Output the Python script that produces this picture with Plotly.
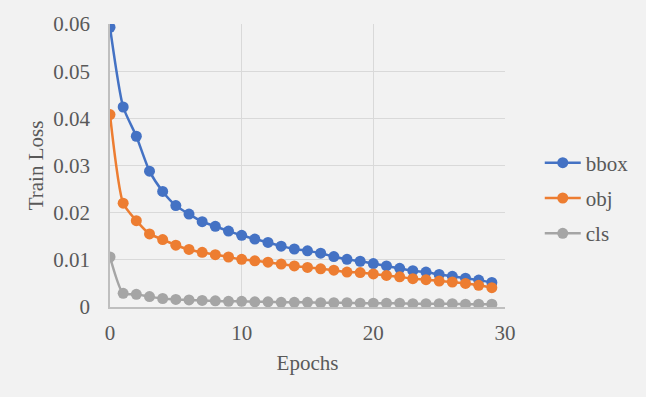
import plotly.graph_objects as go

epochs = list(range(30))
bbox = [0.0593, 0.0424, 0.0362, 0.0288, 0.0245, 0.0215, 0.0197, 0.0181, 0.0171, 0.0161,
        0.0152, 0.0144, 0.0137, 0.0129, 0.0123, 0.0119, 0.0114, 0.0107, 0.0101, 0.0097,
        0.0092, 0.0087, 0.0082, 0.0077, 0.0074, 0.0069, 0.0065, 0.0061, 0.0057, 0.0052]
obj = [0.0408, 0.0220, 0.0183, 0.0155, 0.0143, 0.0131, 0.0122, 0.0116, 0.0111, 0.0106,
       0.0101, 0.0098, 0.0095, 0.0091, 0.0087, 0.0084, 0.0081, 0.0078, 0.0074, 0.0073,
       0.0070, 0.0067, 0.0064, 0.0060, 0.0058, 0.0055, 0.0053, 0.0050, 0.0046, 0.0041]
cls = [0.0106, 0.0029, 0.0027, 0.0022, 0.0018, 0.0016, 0.0015, 0.0014, 0.0013, 0.0012,
       0.0012, 0.0011, 0.0011, 0.0010, 0.0010, 0.0010, 0.0009, 0.0009, 0.0009, 0.0008,
       0.0008, 0.0008, 0.0008, 0.0007, 0.0007, 0.0007, 0.0007, 0.0006, 0.0006, 0.0006]

series = [("bbox", bbox, "#4472C4"), ("obj", obj, "#ED7D31"), ("cls", cls, "#A5A5A5")]

FONT = "Liberation Serif, Times New Roman, serif"
TXT = "#595959"
FS = 21

fig = go.Figure()
for name, vals, col in series:
    fig.add_trace(go.Scatter(
        x=epochs, y=vals, name=name, legendgroup=name, mode="lines+markers",
        line=dict(color=col, width=2.5, shape="spline", smoothing=0.6),
        marker=dict(color=col, size=11),
    ))

fig.update_layout(
    width=646, height=397,
    paper_bgcolor="#F2F2F2", plot_bgcolor="#F2F2F2",
    margin=dict(l=110, r=140, t=22, b=90),
    font=dict(family=FONT, size=FS, color=TXT),
    showlegend=True,
    legend=dict(x=1.088, y=0.385, xanchor="left", yanchor="middle",
                bgcolor="rgba(0,0,0,0)", font=dict(family=FONT, size=FS, color=TXT),
                tracegroupgap=5, itemwidth=36),
)
fig.update_xaxes(
    range=[0, 30], dtick=10, showgrid=True, gridcolor="#D9D9D9", gridwidth=1,
    zeroline=False, showline=True, linecolor="#BFBFBF", linewidth=1.5,
    ticks="outside", ticklen=6, tickcolor="rgba(0,0,0,0)",
    tickfont=dict(family=FONT, size=FS, color=TXT),
    title=dict(text="Epochs", standoff=11, font=dict(family=FONT, size=FS, color=TXT)),
)
fig.update_yaxes(
    range=[0, 0.06], dtick=0.01, showgrid=True, gridcolor="#D9D9D9", gridwidth=1,
    zeroline=False, showline=True, linecolor="#BFBFBF", linewidth=1.5,
    ticks="outside", ticklen=14, tickcolor="rgba(0,0,0,0)",
    tickformat="~g",
    tickfont=dict(family=FONT, size=FS, color=TXT),
    title=dict(text="Train Loss", standoff=4, font=dict(family=FONT, size=FS, color=TXT)),
)

fig.write_html("out.html")
